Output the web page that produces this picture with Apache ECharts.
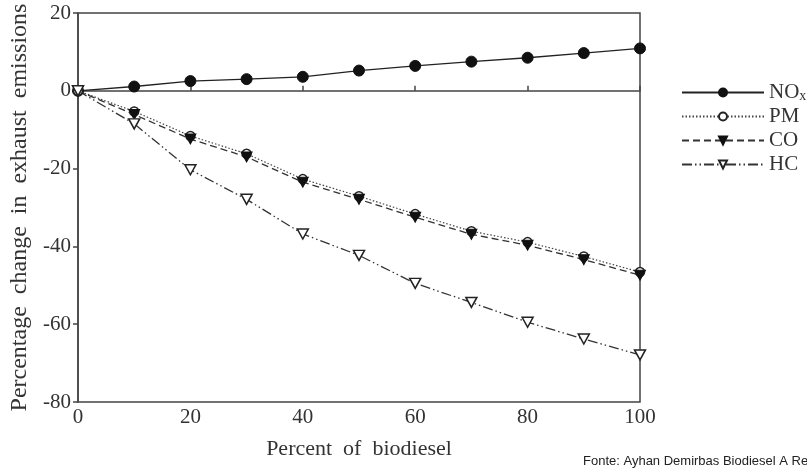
<!DOCTYPE html>
<html>
<head>
<meta charset="utf-8">
<script src="https://cdn.jsdelivr.net/npm/echarts@6/dist/echarts.min.js"></script>
<style>html,body{margin:0;padding:0;background:#fff}#c{width:807px;height:468px}</style>
</head>
<body>
<div id="c"></div>
<script>
var percent = [0, 10, 20, 30, 40, 50, 60, 70, 80, 90, 100];
var nox = [0, 1.1, 2.5, 3.0, 3.6, 5.2, 6.4, 7.5, 8.5, 9.7, 10.9];
var pm  = [0, -5.3, -11.6, -16.2, -22.7, -27.1, -31.7, -36.1, -38.9, -42.6, -46.6];
var co  = [0, -6.1, -12.4, -17.0, -23.5, -27.9, -32.5, -36.9, -39.7, -43.4, -47.4];
var hc  = [0, -8.5, -20.3, -27.9, -36.8, -42.3, -49.5, -54.4, -59.5, -63.8, -67.9];
var yTicks = [-80, -60, -40, -20, 0, 20];
var xTicks = [0, 20, 40, 60, 80, 100];

function pairs(v){ return percent.map(function(x,i){ return [x, v[i]]; }); }
var serif = 'Liberation Serif';
var tri = 'path://M0,0 L10,0 L5,9 Z';
var chart = echarts.init(document.getElementById('c'));
chart.setOption({
  animation: false,
  backgroundColor: '#fff',
  grid: { left: 78, right: 167, top: 13, bottom: 66, containLabel: false, outerBoundsMode: 'none',
          show: true, borderColor: '#444', borderWidth: 1.5, backgroundColor: 'transparent' },
  xAxis: {
    type: 'value', min: 0, max: 100, interval: 20,
    name: 'Percent  of  biodiesel', nameLocation: 'middle', nameGap: 36,
    nameTextStyle: { fontFamily: serif, fontSize: 22, color: '#333' },
    axisLine: { lineStyle: { color: '#444', width: 1.5 } },
    axisTick: { inside: true, length: 5, lineStyle: { color: '#444', width: 1.5 } },
    axisLabel: { fontFamily: serif, fontSize: 21, color: '#333', margin: 5 },
    splitLine: { show: false }
  },
  yAxis: {
    type: 'value', min: -80, max: 20, interval: 20,
    name: 'Percentage  change  in  exhaust  emissions', nameLocation: 'middle', nameGap: 45,
    nameTextStyle: { fontFamily: serif, fontSize: 24, color: '#333' },
    axisLine: { show: true, lineStyle: { color: '#444', width: 1.5 } },
    axisTick: { show: true, length: 5, lineStyle: { color: '#444', width: 1.5 } },
    axisLabel: { fontFamily: serif, fontSize: 21, color: '#333', margin: 7 },
    splitLine: { show: false }
  },
  legend: {
    orient: 'vertical', left: 676, top: 77, itemWidth: 82, itemHeight: 10, itemGap: 3,
    textStyle: { fontFamily: serif, fontSize: 21, color: '#333', rich: { sub: { fontFamily: serif, fontSize: 14, color: '#333', verticalAlign: 'bottom', padding: [7,0,0,0] } } },
    formatter: function(n){ return n === 'NOx' ? 'NO{sub|x}' : n; },
    data: ['NOx', 'PM', 'CO', 'HC']
  },
  series: [
    { name: 'NOx', type: 'line', data: pairs(nox), symbol: 'circle', symbolSize: 11,
      lineStyle: { color: '#222', width: 1.3, type: 'solid' },
      itemStyle: { color: '#111', borderColor: '#111', borderWidth: 1 } },
    { name: 'PM', type: 'line', data: pairs(pm), symbol: 'circle', symbolSize: 9,
      lineStyle: { color: '#444', width: 1.2, type: [1.5, 2] },
      itemStyle: { color: '#fff', borderColor: '#222', borderWidth: 1.5 } },
    { name: 'CO', type: 'line', data: pairs(co), symbol: tri, symbolSize: [11, 10],
      lineStyle: { color: '#333', width: 1.3, type: [7, 4] },
      itemStyle: { color: '#111', borderColor: '#111', borderWidth: 1 } },
    { name: 'HC', type: 'line', data: pairs(hc), symbol: tri, symbolSize: [11, 10],
      lineStyle: { color: '#333', width: 1.3, type: [10, 3, 1.5, 3, 1.5, 3] },
      itemStyle: { color: '#fff', borderColor: '#222', borderWidth: 1.5 } }
  ],
  graphic: [
    { type: 'text', left: 583, top: 455, style: { text: 'Fonte: Ayhan Demirbas Biodiesel A Realistic Fuel Alternative', fontFamily: 'Liberation Sans', fontSize: 13, fill: '#222' } }
  ]
});
</script>
</body>
</html>
